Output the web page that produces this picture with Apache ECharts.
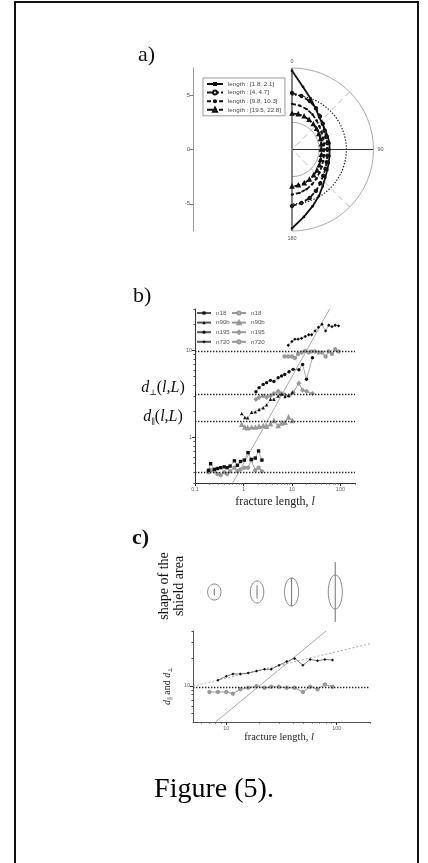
<!DOCTYPE html>
<html>
<head>
<meta charset="utf-8">
<script src="https://cdn.jsdelivr.net/npm/echarts@6/dist/echarts.min.js"></script>
<style>
html, body { margin: 0; padding: 0; background: #fff; }
#chart { width: 428px; height: 863px; }
</style>
</head>
<body>
<div id="chart"></div>
<script>
// a) shield rose: radius against direction (degrees)
const roseAngles = [0, 10, 20, 30, 40, 50, 60, 70, 80, 90, 100, 110, 120, 130, 140, 150, 160, 170, 180];
const roseNames = ['length : [1.8, 2.1]', 'length : [4, 4.7]', 'length : [9.8, 10.3]', 'length : [19.5, 22.8]'];
const rose1 = [7.25, 5.85, 5.0, 4.35, 3.9, 3.65, 3.55, 3.5, 3.5, 3.45, 3.5, 3.6, 3.75, 4.0, 4.4, 4.95, 5.55, 6.3, 7.25];
const rose2 = [5.2, 5.0, 4.75, 4.4, 4.0, 3.7, 3.45, 3.35, 3.3, 3.25, 3.3, 3.4, 3.55, 3.75, 4.05, 4.4, 4.75, 5.0, 5.2];
const rose3 = [4.2, 4.1, 3.95, 3.75, 3.5, 3.3, 3.15, 3.05, 3.0, 2.95, 3.0, 3.05, 3.15, 3.3, 3.5, 3.7, 3.9, 4.05, 4.15];
const rose4 = [3.3, 3.3, 3.25, 3.15, 3.05, 2.95, 2.85, 2.8, 2.75, 2.7, 2.75, 2.8, 2.9, 3.0, 3.1, 3.2, 3.3, 3.35, 3.4];
const roseTicks = [-5, 0, 5];

// b) d(l,L) against fracture length
const n18X = [0.19, 0.21, 0.25, 0.29, 0.34, 0.40, 0.46, 0.53, 0.65, 0.75, 0.87, 1.04, 1.24, 1.45, 1.75, 2.05, 2.4];
const n18Perp = [0.42, 0.50, 0.43, 0.44, 0.45, 0.46, 0.45, 0.47, 0.54, 0.48, 0.53, 0.55, 0.67, 0.56, 0.58, 0.70, 0.55];
const n18Par = [0.40, 0.42, 0.41, 0.38, 0.37, 0.40, 0.38, 0.41, 0.45, 0.41, 0.43, 0.45, 0.45, 0.55, 0.42, 0.45, 0.41];
const n90bX = [0.92, 1.07, 1.22, 1.47, 1.75, 2.1, 2.55, 3.0, 3.6, 4.25, 5.2, 6.1, 7.2, 8.5, 10.2];
const n90bPerp = [1.88, 1.70, 1.68, 1.95, 1.97, 2.1, 2.2, 2.37, 2.75, 2.75, 3.0, 3.15, 2.95, 3.05, 3.3];
const n90bPar = [1.40, 1.30, 1.28, 1.30, 1.30, 1.33, 1.35, 1.33, 1.42, 1.55, 1.35, 1.45, 1.48, 1.70, 1.55];
const n195X = [1.81, 2.1, 2.55, 3.0, 3.6, 4.25, 5.2, 6.1, 7.1, 8.7, 10.6, 13.9, 16.6, 20, 26.5];
const n195Perp = [3.36, 3.74, 4.08, 4.27, 4.54, 4.4, 4.87, 5.09, 5.3, 5.7, 6.07, 6.0, 6.9, 4.67, 8.25];
const n195Par = [2.75, 2.9, 3.0, 2.9, 3.0, 3.2, 3.4, 3.2, 3.1, 3.0, 3.3, 4.2, 3.5, 3.4, 3.2];
const n720X = [8.4, 10, 11.5, 13.4, 15.8, 18.8, 22.2, 25.5, 30, 35.3, 41.6, 49.4, 57.5, 67, 78, 91.5];
const n720Perp = [11.5, 12.7, 13.5, 13.5, 13.8, 14.5, 15.2, 15.2, 16.8, 18.5, 20, 16.8, 19.5, 18.8, 19.5, 19.2];
const n720ParX = [7.05, 8.4, 10, 11.5, 13.4, 15.8, 18.8, 22.2, 25.5, 30, 35.3, 41.6, 49.4, 57.5, 67, 78, 91.5];
const n720Par = [8.55, 8.55, 8.55, 8.2, 9.15, 9.5, 9.9, 9.5, 9.76, 9.76, 9.5, 9.5, 8.55, 9.76, 9.15, 10.35, 9.76];
const meanLevels = [9.7, 3.14, 1.55, 0.40];
const slopeX = [0.6, 60];
const slopeY = [0.3, 30];
const bTicksX = [0.1, 1, 10, 100];
const bTicksY = [1, 10];
const bMinorX = [0.2, 0.3, 0.4, 0.5, 0.6, 0.7, 0.8, 0.9, 2, 3, 4, 5, 6, 7, 8, 9, 20, 30, 40, 50, 60, 70, 80, 90, 200];
const bMinorY = [0.3, 0.4, 0.5, 0.6, 0.7, 0.8, 0.9, 2, 3, 4, 5, 6, 7, 8, 9, 20, 30];

// c) shield shape and n720 only
const cSlopeX = [8, 80];
const cSlopeY = [4, 40];
const fitX = [5, 200];
const fitY = [9.9, 29];
const cTicksX = [10, 100];
const cTicksY = [10];
const cMinorX = [6, 7, 8, 9, 20, 30, 40, 50, 60, 70, 80, 90, 200];
const cMinorY = [5, 6, 7, 8, 9, 20, 30, 40];
const shapeAt = [7.8, 19, 39, 97];
const shapeFrac = [2.4, 4.5, 10, 21];
const shapeLong = [2.8, 3.85, 4.9, 5.95];
const shapeShort = [2.35, 2.35, 2.45, 2.45];

const SERIF = '"Liberation Serif", "DejaVu Serif", serif';
const SANS = '"Liberation Sans", Arial, sans-serif';

const pairs = (xs, ys) => xs.map((x, i) => [x, ys[i]]);
const tickFmt = v => String(+Number(v).toPrecision(6)).replace('.', ',');

function mainLog(gridIndex, min, max, ticks, pos, extra) {
    return Object.assign({
        type: 'log', gridIndex, min, max, position: pos,
        axisLine: { show: true, onZero: false, lineStyle: { color: '#333', width: 1 } },
        axisTick: { show: true, length: 3, customValues: ticks, lineStyle: { color: '#333' } },
        axisLabel: { customValues: ticks, fontSize: 5.5, color: '#666', fontFamily: SANS, margin: 3, formatter: tickFmt },
        splitLine: { show: false }
    }, extra);
}
function minorLog(gridIndex, min, max, ticks, pos) {
    return {
        type: 'log', gridIndex, min, max, position: pos, offset: 0,
        axisLine: { show: false, onZero: false },
        axisTick: { show: true, length: 1.6, customValues: ticks, lineStyle: { color: '#555' } },
        axisLabel: { show: false },
        splitLine: { show: false }
    };
}

const roseStyles = [
    { symbol: 'rect', type: 'solid' },
    { symbol: 'emptyCircle', type: [5, 2] },
    { symbol: 'circle', type: [4, 2] },
    { symbol: 'emptyTriangle', type: [6, 2, 2, 2] }
];
const roseSeries = [rose1, rose2, rose3, rose4].map((r, i) => ({
    type: 'line', name: roseNames[i], coordinateSystem: 'polar', polarIndex: 0,
    data: pairs(r, roseAngles), symbol: roseStyles[i].symbol, symbolSize: 2.4,
    lineStyle: { color: '#111', width: 1.8, type: roseStyles[i].type },
    itemStyle: { color: '#111', borderWidth: 0.6 }, z: 5
}));

const bGroups = [
    { name: 'n18', x: n18X, perp: n18Perp, par: n18Par, sym: 'rect', open: 'emptyCircle' },
    { name: 'n90b', x: n90bX, perp: n90bPerp, par: n90bPar, sym: 'triangle', open: 'emptyTriangle' },
    { name: 'n195', x: n195X, perp: n195Perp, par: n195Par, sym: 'circle', open: 'emptyDiamond' },
    { name: 'n720', x: n720X, perp: n720Perp, par: n720Par, sym: 'diamond', open: 'emptyCircle', parX: n720ParX }
];
const bSeries = [];
bGroups.forEach(g => {
    bSeries.push({
        type: 'line', name: g.name, xAxisIndex: 1, yAxisIndex: 1,
        data: pairs(g.x, g.perp), symbol: g.sym, symbolSize: 3.4,
        lineStyle: { color: '#555', width: 0.5 }, itemStyle: { color: '#111' }, z: 4
    });
    bSeries.push({
        type: 'line', name: g.name + '_o', xAxisIndex: 1, yAxisIndex: 1,
        data: pairs(g.parX || g.x, g.par), symbol: g.open, symbolSize: 2.4,
        lineStyle: { color: '#999', width: 1 }, itemStyle: { color: '#999', borderWidth: 0.7 }, z: 3
    });
});

const levelLine = {
    silent: true, symbol: ['none', 'none'], label: { show: false },
    lineStyle: { color: '#222', type: [1.4, 1.6], width: 1.3 },
    data: meanLevels.map(v => ({ yAxis: v }))
};

const option = {
    animation: false,
    backgroundColor: '#fff',
    grid: [
        { left: 193, top: 68, width: 1, height: 163, outerBoundsMode: 'none' },
        { left: 195, top: 309, width: 160, height: 174, outerBoundsMode: 'none' },
        { left: 193, top: 631, width: 177, height: 91, outerBoundsMode: 'none' },
        { left: 193, top: 549, width: 177, height: 86, outerBoundsMode: 'none' }
    ],
    polar: [
        { center: [292, 149.5], radius: 81.5 },
        { center: [292, 149.5], radius: 81.5 }
    ],
    angleAxis: [
        {
            polarIndex: 0, type: 'value', min: 0, max: 180, interval: 90,
            startAngle: 90, endAngle: -90, clockwise: true,
            axisLine: { show: true, lineStyle: { color: '#aaa', width: 1 } },
            axisTick: { show: false },
            axisLabel: { fontSize: 5.5, color: '#555', fontFamily: SANS, margin: 4 },
            splitLine: { show: true, lineStyle: { color: '#333', width: 1.2 } }
        },
        {
            polarIndex: 1, type: 'value', min: 0, max: 180, interval: 45,
            startAngle: 90, endAngle: -90, clockwise: true,
            axisLine: { show: false }, axisTick: { show: false }, axisLabel: { show: false },
            splitLine: { show: true, lineStyle: { color: ['transparent', '#bbb'], type: [6, 4], width: 1 } }
        }
    ],
    radiusAxis: [
        {
            polarIndex: 0, type: 'value', min: 0, max: 7.5, interval: 2.5,
            axisLine: { show: false }, axisTick: { show: false }, axisLabel: { show: false },
            splitLine: { show: true, lineStyle: { color: ['transparent', '#aaa', 'transparent', 'transparent'], width: 1 } }
        },
        {
            polarIndex: 1, type: 'value', min: 0, max: 7.5, interval: 5,
            axisLine: { show: false }, axisTick: { show: false }, axisLabel: { show: false },
            splitLine: { show: true, lineStyle: { color: ['transparent', '#222', 'transparent'], type: [1.4, 1.6], width: 1.2 } }
        }
    ],
    xAxis: [
        { type: 'value', gridIndex: 0, show: false },
        mainLog(1, 0.1, 200, bTicksX, 'bottom'),
        minorLog(1, 0.1, 200, bMinorX, 'bottom'),
        mainLog(2, 5, 200, cTicksX, 'bottom', { axisLine: { show: true, onZero: false, lineStyle: { color: '#555' } } }),
        minorLog(2, 5, 200, cMinorX, 'bottom'),
        { type: 'log', gridIndex: 3, min: 5, max: 200, show: false }
    ],
    yAxis: [
        {
            type: 'value', gridIndex: 0, min: -7.5, max: 7.5,
            axisLine: { show: true, lineStyle: { color: '#999' } },
            axisTick: { show: true, length: 3, customValues: roseTicks, lineStyle: { color: '#777' } },
            axisLabel: { customValues: roseTicks, fontSize: 6, color: '#555', fontFamily: SANS, margin: 3 },
            splitLine: { show: false }
        },
        mainLog(1, 0.3, 30, bTicksY, 'left'),
        minorLog(1, 0.3, 30, bMinorY, 'left'),
        mainLog(2, 4, 40, cTicksY, 'left', { axisLine: { show: true, onZero: false, lineStyle: { color: '#555' } } }),
        minorLog(2, 4, 40, cMinorY, 'left'),
        { type: 'value', gridIndex: 3, min: -15, max: 15, show: false }
    ],
    legend: [
        {
            data: roseNames, left: 203, top: 78, orient: 'vertical',
            itemWidth: 16, itemHeight: 5, itemGap: 2.6, padding: [3, 4, 3, 3],
            borderColor: '#999', borderWidth: 1,
            textStyle: { fontSize: 6.2, color: '#444', fontFamily: SANS }
        },
        {
            data: bGroups.map(g => g.name), left: 196, top: 310, orient: 'vertical',
            itemWidth: 14, itemHeight: 4, itemGap: 3.6, padding: 0,
            textStyle: { fontSize: 6.2, color: '#555', fontFamily: SANS }
        },
        {
            data: bGroups.map(g => g.name + '_o'), left: 231, top: 310, orient: 'vertical',
            itemWidth: 14, itemHeight: 4, itemGap: 3.6, padding: 0,
            formatter: name => name.replace('_o', ''),
            textStyle: { fontSize: 6.2, color: '#555', fontFamily: SANS }
        }
    ],
    series: [
        ...roseSeries,
        ...bSeries,
        {
            type: 'line', name: 'slope b', xAxisIndex: 1, yAxisIndex: 1,
            data: pairs(slopeX, slopeY), symbol: 'none',
            lineStyle: { color: '#aaa', width: 1 }, markLine: levelLine, z: 2
        },
        {
            type: 'line', name: 'slope c', xAxisIndex: 3, yAxisIndex: 3,
            data: pairs(cSlopeX, cSlopeY), symbol: 'none',
            lineStyle: { color: '#aaa', width: 1 }, markLine: levelLine, z: 2
        },
        {
            type: 'line', name: 'fit c', xAxisIndex: 3, yAxisIndex: 3,
            data: pairs(fitX, fitY), symbol: 'none',
            lineStyle: { color: '#aaa', width: 1, type: [2, 2] }, z: 2
        },
        {
            type: 'line', name: 'n720 c', xAxisIndex: 3, yAxisIndex: 3,
            data: pairs(n720X, n720Perp), symbol: 'diamond', symbolSize: 3,
            lineStyle: { color: '#444', width: 0.7 }, itemStyle: { color: '#111' }, z: 4
        },
        {
            type: 'line', name: 'n720 c_o', xAxisIndex: 3, yAxisIndex: 3,
            data: pairs(n720ParX, n720Par), symbol: 'emptyCircle', symbolSize: 2.4,
            lineStyle: { color: '#999', width: 1 }, itemStyle: { color: '#999', borderWidth: 0.7 }, z: 3
        },
        {
            type: 'custom', name: 'shield shapes', xAxisIndex: 5, yAxisIndex: 5, silent: true,
            data: shapeAt.map((x, i) => [x, shapeFrac[i], shapeLong[i], shapeShort[i]]),
            renderItem(params, api) {
                const c = api.coord([api.value(0), 0]);
                const px = v => Math.abs(api.coord([api.value(0), v])[1] - c[1]);
                const half = px(api.value(1) / 2);
                return {
                    type: 'group',
                    children: [
                        {
                            type: 'ellipse',
                            shape: { cx: c[0], cy: c[1], rx: px(api.value(3)), ry: px(api.value(2)) },
                            style: { fill: 'none', stroke: '#888', lineWidth: 1 }
                        },
                        {
                            type: 'line',
                            shape: { x1: c[0], y1: c[1] - half, x2: c[0], y2: c[1] + half },
                            style: { stroke: '#888', lineWidth: 1.2 }
                        }
                    ]
                };
            }
        }
    ],
    graphic: [
        {
            type: 'rect', silent: true, shape: { x: 15, y: 2, width: 403, height: 900 },
            style: { fill: 'none', stroke: '#111', lineWidth: 2 }
        },
        { type: 'text', x: 138, y: 55, style: { text: 'a)', font: '22px ' + SERIF, fill: '#111', verticalAlign: 'middle' } },
        { type: 'text', x: 133, y: 296, style: { text: 'b)', font: '22px ' + SERIF, fill: '#111', verticalAlign: 'middle' } },
        { type: 'text', x: 132, y: 538, style: { text: 'c)', font: 'bold 22px ' + SERIF, fill: '#111', verticalAlign: 'middle' } },
        {
            type: 'text', x: 163, y: 388,
            style: {
                text: '{i|d}{s|⊥}{n|(}{i|l,L}{n|)}', align: 'center', verticalAlign: 'middle',
                rich: {
                    i: { font: 'italic 16px ' + SERIF, fill: '#111', lineHeight: 18 },
                    n: { font: '16px ' + SERIF, fill: '#111', lineHeight: 18 },
                    s: { font: '8px ' + SERIF, fill: '#111', lineHeight: 18, verticalAlign: 'bottom' }
                }
            }
        },
        {
            type: 'text', x: 163, y: 417,
            style: {
                text: '{i|d}{s|∥}{n|(}{i|l,L}{n|)}', align: 'center', verticalAlign: 'middle',
                rich: {
                    i: { font: 'italic 16px ' + SERIF, fill: '#111', lineHeight: 18 },
                    n: { font: '16px ' + SERIF, fill: '#111', lineHeight: 18 },
                    s: { font: '8px ' + SERIF, fill: '#111', lineHeight: 18, verticalAlign: 'bottom' }
                }
            }
        },
        {
            type: 'text', x: 275, y: 502,
            style: {
                text: '{n|fracture length, }{i|l}', align: 'center', verticalAlign: 'middle',
                rich: {
                    n: { font: '12px ' + SERIF, fill: '#222' },
                    i: { font: 'italic 12px ' + SERIF, fill: '#222' }
                }
            }
        },
        {
            type: 'text', x: 279, y: 737,
            style: {
                text: '{n|fracture length, }{i|l}', align: 'center', verticalAlign: 'middle',
                rich: {
                    n: { font: '10.5px ' + SERIF, fill: '#222' },
                    i: { font: 'italic 10.5px ' + SERIF, fill: '#222' }
                }
            }
        },
        {
            type: 'text', x: 172, y: 586, rotation: Math.PI / 2,
            style: {
                text: 'shape of the\nshield area', align: 'center', verticalAlign: 'middle',
                font: '14px ' + SERIF, lineHeight: 15, fill: '#111'
            }
        },
        {
            type: 'text', x: 167, y: 686, rotation: Math.PI / 2,
            style: {
                text: '{i|d}{s|∥}{n| and }{i|d}{s|⊥}', align: 'center', verticalAlign: 'middle',
                rich: {
                    i: { font: 'italic 10px ' + SERIF, fill: '#222', lineHeight: 12 },
                    n: { font: '10px ' + SERIF, fill: '#222', lineHeight: 12 },
                    s: { font: '6px ' + SERIF, fill: '#222', lineHeight: 12, verticalAlign: 'bottom' }
                }
            }
        },
        { type: 'text', x: 214, y: 790, style: { text: 'Figure (5).', font: '28px ' + SERIF, fill: '#000', align: 'center', verticalAlign: 'middle' } }
    ]
};

const chart = echarts.init(document.getElementById('chart'));
chart.setOption(option);
</script>
</body>
</html>
